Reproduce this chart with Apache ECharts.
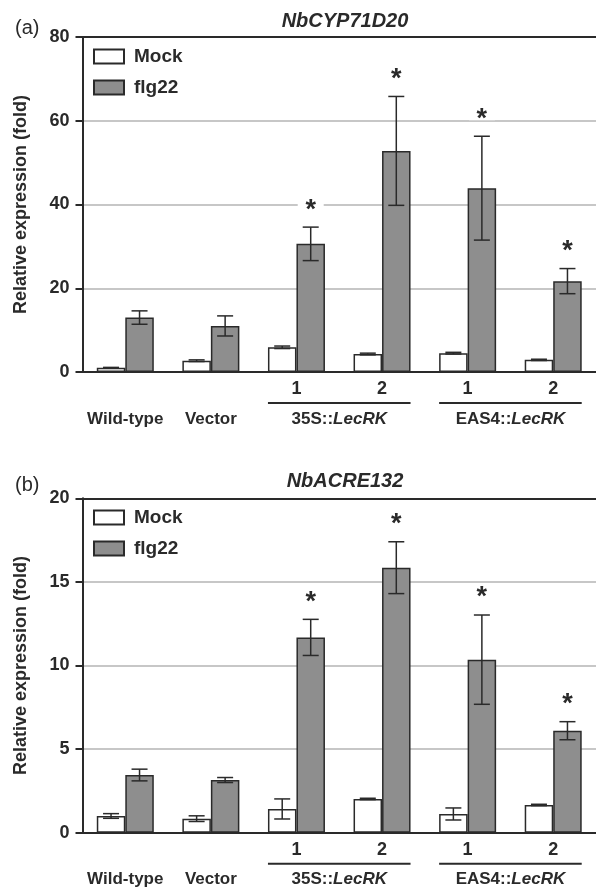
<!DOCTYPE html>
<html>
<head>
<meta charset="utf-8">
<script src="https://cdn.jsdelivr.net/npm/echarts@6/dist/echarts.min.js"></script>
<style>html,body{margin:0;padding:0;background:#fff}#c{width:596px;height:893px}</style>
</head>
<body>
<div id="c"></div>
<script>
// ---- data ----
const categories = ['Wild-type', 'Vector', '35S::LecRK 1', '35S::LecRK 2', 'EAS4::LecRK 1', 'EAS4::LecRK 2'];
const lineLabels = ['', '', '1', '2', '1', '2'];
const groupLabels = ['Wild-type', 'Vector', '35S::LecRK', 'EAS4::LecRK'];
const groupStart = [0, 1, 2, 4];
const groupEnd = [0, 1, 3, 5];
const groupUnderline = [0, 0, 1, 1];

const titleA = 'NbCYP71D20';
const cypMock = [1.0, 2.7, 5.9, 4.3, 4.5, 2.9];
const cypMockErr = [0.1, 0.2, 0.3, 0.2, 0.2, 0.15];
const cypFlg = [13.0, 11.0, 30.6, 52.8, 43.9, 21.7];
const cypFlgErr = [1.6, 2.4, 4.0, 13.0, 12.4, 3.0];
const cypSig = [0, 0, 1, 1, 1, 1];
const yTicksA = [0, 20, 40, 60, 80];

const titleB = 'NbACRE132';
const acreMock = [1.0, 0.84, 1.42, 2.02, 1.12, 1.66];
const acreMockErr = [0.14, 0.17, 0.6, 0.04, 0.36, 0.04];
const acreFlg = [3.45, 3.15, 11.68, 15.85, 10.35, 6.1];
const acreFlgErr = [0.35, 0.15, 1.08, 1.55, 2.67, 0.54];
const acreSig = [0, 0, 1, 1, 1, 1];
const yTicksB = [0, 5, 10, 15, 20];

// ---- styles ----
const FONT = "'Liberation Sans', Arial, Helvetica, sans-serif";
const BAR_W = 28.5;
const DARK = '#2a2a2a';
const GREY = '#8e8e8e';
const GRID_GREY = '#b4b4b4';

const chart = echarts.init(document.getElementById('c'), null, {renderer: 'canvas'});

function errData(mean, err, side, sig) {
  return mean.map((v, i) => [i, v, err[i], side, sig ? sig[i] : 0]);
}
function errRender(params, api) {
  const i = api.value(0), v = api.value(1), e = api.value(2), side = api.value(3), sig = api.value(4);
  const c = api.coord([i, v]);
  const hi = api.coord([i, v + e]);
  const lo = api.coord([i, v - e]);
  const x = c[0] + (side ? 1 : -1) * BAR_W / 2;
  const st = {stroke: DARK, lineWidth: 1.5};
  const children = [
    {type: 'line', shape: {x1: x, y1: hi[1], x2: x, y2: lo[1]}, style: st},
    {type: 'line', shape: {x1: x - 8, y1: hi[1], x2: x + 8, y2: hi[1]}, style: st},
    {type: 'line', shape: {x1: x - 8, y1: lo[1], x2: x + 8, y2: lo[1]}, style: st}
  ];
  if (sig) {
    const gy = hi[1] - 21;
    children.push({type: 'rect', shape: {x: x - 13, y: gy - 5, width: 26, height: 10}, style: {fill: '#fff'}});
    children.push({type: 'text', style: {
      text: '*', x: x, y: gy + 4, align: 'center', verticalAlign: 'middle',
      fontFamily: FONT, fontWeight: 'bold', fontSize: 27, fill: DARK
    }});
  }
  return {type: 'group', children: children};
}
function groupData() {
  return groupLabels.map((g, k) => [groupStart[k], groupEnd[k], k, groupUnderline[k]]);
}
function groupRender(params, api) {
  const s = api.value(0), e = api.value(1), k = api.value(2), u = api.value(3);
  const a = api.coord([s, 0]);
  const b = api.coord([e, 0]);
  const y0 = a[1];
  const children = [];
  if (u) {
    children.push({type: 'line', shape: {x1: a[0] - BAR_W, y1: y0 + 31, x2: b[0] + BAR_W, y2: y0 + 31},
      style: {stroke: DARK, lineWidth: 2}});
  }
  const label = groupLabels[k];
  const parts = label.split('::');
  const txt = parts.length > 1 ? '{n|' + parts[0] + '::}{i|' + parts[1] + '}' : '{n|' + label + '}';
  children.push({type: 'text', style: {
    text: txt, x: (a[0] + b[0]) / 2, y: y0 + 47, align: 'center', verticalAlign: 'middle',
    rich: {
      n: {fontFamily: FONT, fontWeight: 'bold', fontSize: 17, fill: DARK},
      i: {fontFamily: FONT, fontWeight: 'bold', fontStyle: 'italic', fontSize: 17, fill: DARK}
    }
  }});
  return {type: 'group', children: children};
}

function xAxes(gi) {
  return [
    {type: 'category', gridIndex: gi, position: 'bottom', data: categories,
     axisLine: {lineStyle: {color: DARK, width: 2}}, axisTick: {show: false},
     axisLabel: {margin: 8, formatter: (v, idx) => lineLabels[idx], fontFamily: FONT, fontWeight: 'bold', fontSize: 18, color: DARK}},
    {type: 'category', gridIndex: gi, position: 'top', data: categories,
     axisLine: {lineStyle: {color: DARK, width: 2}}, axisTick: {show: false}, axisLabel: {show: false}}
  ];
}
function yAxis(gi, ticks) {
  return {type: 'value', gridIndex: gi, min: ticks[0], max: ticks[ticks.length - 1], interval: ticks[1] - ticks[0],
    name: 'Relative expression (fold)', nameLocation: 'middle', nameGap: 52,
    nameTextStyle: {fontFamily: FONT, fontWeight: 'bold', fontSize: 18, color: DARK},
    axisLine: {show: true, lineStyle: {color: DARK, width: 2}},
    axisTick: {show: true, length: 7, lineStyle: {color: DARK, width: 2}},
    axisLabel: {margin: 13, fontFamily: FONT, fontWeight: 'bold', fontSize: 18, color: DARK},
    splitLine: {show: true, lineStyle: {color: GRID_GREY, width: 1.5}}
  };
}
function legend(top) {
  return {orient: 'vertical', left: 93, top: top, padding: 0, itemGap: 12, itemWidth: 30, itemHeight: 14,
    icon: 'rect', data: ['Mock', 'flg22'],
    textStyle: {fontFamily: FONT, fontWeight: 'bold', fontSize: 19, color: DARK, padding: [0, 0, 0, 5]}};
}
function barSeries(name, data, xi, yi, color) {
  return {type: 'bar', name: name, xAxisIndex: xi, yAxisIndex: yi, data: data, barWidth: BAR_W, barGap: '0%',
    itemStyle: {color: color, borderColor: DARK, borderWidth: 1.5}, silent: true, z: 2};
}

const option = {
  animation: false,
  backgroundColor: '#fff',
  title: [
    {text: '(a)', left: 10, top: 13, textStyle: {fontFamily: FONT, fontWeight: 'normal', fontSize: 20, color: DARK}},
    {text: titleA, left: 340, top: 6, textAlign: 'center', textStyle: {fontFamily: FONT, fontWeight: 'bold', fontStyle: 'italic', fontSize: 20, color: DARK}},
    {text: '(b)', left: 10, top: 470, textStyle: {fontFamily: FONT, fontWeight: 'normal', fontSize: 20, color: DARK}},
    {text: titleB, left: 340, top: 466, textAlign: 'center', textStyle: {fontFamily: FONT, fontWeight: 'bold', fontStyle: 'italic', fontSize: 20, color: DARK}}
  ],
  legend: [legend(47), legend(508)],
  grid: [
    {left: 82.5, top: 37, width: 516, height: 335},
    {left: 82.5, top: 498.3, width: 516, height: 334.4}
  ],
  xAxis: xAxes(0).concat(xAxes(1)),
  yAxis: [yAxis(0, yTicksA), yAxis(1, yTicksB)],
  series: [
    barSeries('Mock', cypMock, 0, 0, '#ffffff'),
    barSeries('flg22', cypFlg, 0, 0, GREY),
    {type: 'custom', xAxisIndex: 0, yAxisIndex: 0, data: errData(cypMock, cypMockErr, 0), renderItem: errRender, z: 5, silent: true},
    {type: 'custom', xAxisIndex: 0, yAxisIndex: 0, data: errData(cypFlg, cypFlgErr, 1, cypSig), renderItem: errRender, z: 5, silent: true},
    {type: 'custom', xAxisIndex: 0, yAxisIndex: 0, data: groupData(), renderItem: groupRender, z: 5, silent: true},
    barSeries('Mock', acreMock, 2, 1, '#ffffff'),
    barSeries('flg22', acreFlg, 2, 1, GREY),
    {type: 'custom', xAxisIndex: 2, yAxisIndex: 1, data: errData(acreMock, acreMockErr, 0), renderItem: errRender, z: 5, silent: true},
    {type: 'custom', xAxisIndex: 2, yAxisIndex: 1, data: errData(acreFlg, acreFlgErr, 1, acreSig), renderItem: errRender, z: 5, silent: true},
    {type: 'custom', xAxisIndex: 2, yAxisIndex: 1, data: groupData(), renderItem: groupRender, z: 5, silent: true}
  ]
};
chart.setOption(option);
</script>
</body>
</html>
